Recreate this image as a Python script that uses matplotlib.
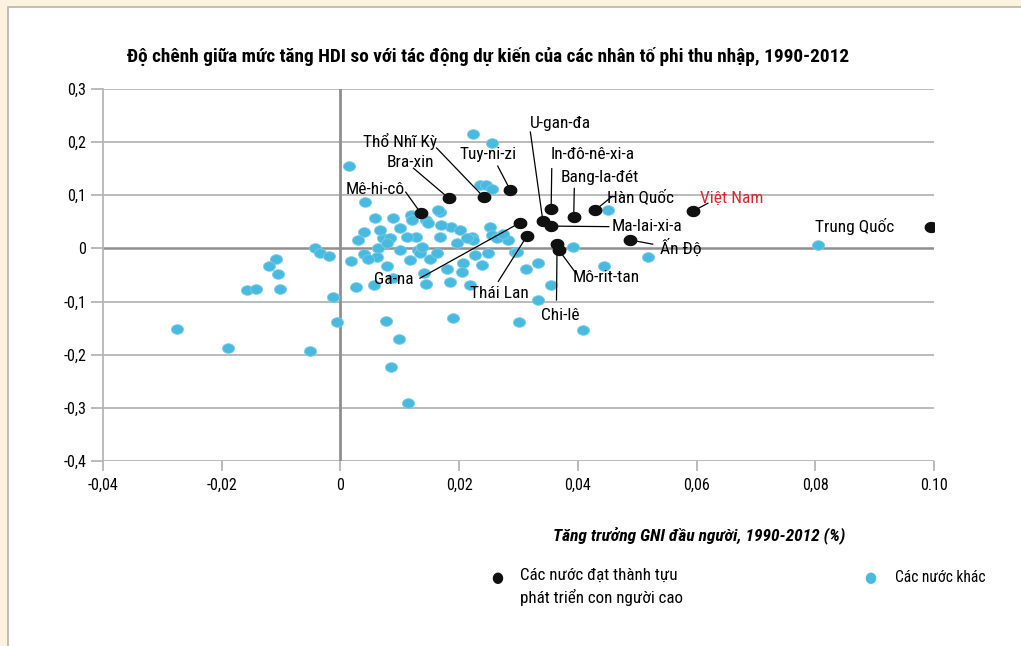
import matplotlib
matplotlib.use('Agg')
import matplotlib.pyplot as plt
import numpy as np
from matplotlib import font_manager
from matplotlib.path import Path
from matplotlib.patches import Rectangle

# data (x: GNI growth, y: HDI gap)
blue_x = [-0.0276, -0.0189, -0.0052, -0.0005, -0.0013, -0.0158, -0.0142, -0.0102, -0.0109, -0.0120,
          -0.0106, -0.0043, -0.0035, -0.0020, 0.0017, 0.0039, 0.0026, 0.0057, 0.0078, 0.0077,
          0.0098, 0.0085, 0.0113, 0.0040, 0.0072, 0.0030, 0.0064, 0.0015, 0.0041, 0.0058,
          0.0190, 0.0300, 0.0409, 0.0333, 0.0355, 0.0145, 0.0184, 0.0218, 0.0312, 0.0333,
          0.0294, 0.0392, 0.0444, 0.0518, 0.0117, 0.0151, 0.0179, 0.0207, 0.0238, 0.0227,
          0.0249, 0.0100, 0.0131, 0.0162, 0.0187, 0.0221, 0.0252, 0.0145, 0.0170, 0.0224,
          0.0255, 0.0235, 0.0246, 0.0168, 0.0119, 0.0089, 0.0120, 0.0148, 0.0067, 0.0201,
          0.0083, 0.0128, 0.0168, 0.0196, 0.0224, 0.0255, 0.0283, 0.0297, 0.0061, 0.0100,
          0.0134, 0.0140, 0.0451, 0.0805, 0.0255, 0.0165, 0.0078, 0.0112, 0.0137, 0.0213,
          0.0263, 0.0274, 0.0046, 0.0088, 0.0205]
blue_y = [-0.152, -0.188, -0.193, -0.139, -0.091, -0.078, -0.076, -0.077, -0.019, -0.033,
          -0.049, 0.000, -0.008, -0.014, -0.023, -0.011, -0.073, -0.068, -0.034, -0.136,
          -0.171, -0.223, -0.290, 0.031, 0.019, 0.016, 0.000, 0.156, 0.088, 0.057,
          -0.130, -0.138, -0.154, -0.097, -0.068, -0.066, -0.063, -0.069, -0.038, -0.028,
          -0.007, 0.002, -0.033, -0.016, -0.022, -0.019, -0.039, -0.028, -0.031, -0.012,
          -0.009, 0.038, -0.003, -0.009, 0.041, 0.022, 0.041, 0.053, 0.044, 0.215,
          0.198, 0.119, 0.119, 0.069, 0.063, 0.057, 0.053, 0.047, 0.035, 0.035,
          0.019, 0.022, 0.022, 0.010, 0.016, 0.025, 0.016, -0.006, -0.016, -0.003,
          -0.009, -0.047, 0.072, 0.006, 0.111, 0.072, 0.010, 0.022, 0.003, 0.019,
          0.019, 0.028, -0.020, -0.055, -0.045]

names = ['Mê-hi-cô', 'Bra-xin', 'Thổ Nhĩ Kỳ', 'Tuy-ni-zi', 'U-gan-đa', 'Ma-lai-xi-a',
         'In-đô-nê-xi-a', 'Bang-la-đét', 'Hàn Quốc', 'Ga-na', 'Thái Lan', 'Chi-lê',
         'Mô-rit-tan', 'Ấn Độ', 'Việt Nam', 'Trung Quốc']
black_x = [0.0135, 0.0183, 0.0242, 0.0286, 0.0341, 0.0355, 0.0355, 0.0393, 0.0429, 0.0302,
           0.0314, 0.0365, 0.0368, 0.0488, 0.0594, 0.0995]
black_y = [0.067, 0.094, 0.096, 0.110, 0.052, 0.042, 0.074, 0.059, 0.072, 0.048,
           0.023, 0.008, -0.003, 0.016, 0.070, 0.040]
# label text position and where the leader line starts (None = no leader)
label_xy = [(0.0058, 0.110), (0.0117, 0.162), (0.0100, 0.202), (0.0249, 0.176), (0.0371, 0.236),
            (0.0457, 0.042), (0.0425, 0.176), (0.0437, 0.134), (0.0506, 0.097), (0.0090, -0.058),
            (0.0268, -0.084), (0.0370, -0.127), (0.0447, -0.054), (0.0538, 0.001), (0.0660, 0.095),
            (0.0867, 0.042)]
line_start = [(0.0110, 0.106), (0.0123, 0.151), (0.0162, 0.189), (0.0265, 0.155), (0.0320, 0.219),
              (0.0452, 0.041), (0.0356, 0.150), (0.0394, 0.113), (0.0458, 0.098), (0.0134, -0.056),
              (0.0266, -0.062), (0.0364, -0.097), (0.0397, -0.047), (0.0526, 0.008), (0.0619, 0.085),
              None]
ha_list = ['center'] * 16
ha_list[5] = 'left'
ha_list[13] = 'left'

xticks = [-0.04, -0.02, 0, 0.02, 0.04, 0.06, 0.08, 0.10]
xticklabels = ['-0,04', '-0,02', '0', '0,02', '0,04', '0,06', '0,08', '0.10']
yticks = [0.3, 0.2, 0.1, 0, -0.1, -0.2, -0.3, -0.4]
yticklabels = ['0,3', '0,2', '0,1', '0', '-0,1', '-0,2', '-0,3', '-0,4']

installed = {f.name for f in font_manager.fontManager.ttflist}
fam = 'DejaVu Sans'
for cand in ['Liberation Sans Narrow', 'Roboto Condensed', 'Open Sans Condensed', 'Noto Sans Condensed']:
    if cand in installed:
        fam = cand
        break
plt.rcParams['font.family'] = [fam, 'DejaVu Sans']
plt.rcParams['font.stretch'] = 'condensed'

t = np.linspace(0, 2 * np.pi, 40)
ellipse = Path(np.column_stack([1.25 * np.cos(t), np.sin(t)]), closed=True)

fig = plt.figure(figsize=(10.21, 6.46), dpi=100)
fig.patch.set_facecolor('#fdf2e0')
panel = Rectangle((8 / 1021, -0.01), 1.0, 1 - 7 / 646 + 0.01, transform=fig.transFigure,
                  facecolor='white', edgecolor='#b8b2aa', linewidth=1.2, zorder=-5)
fig.patches.append(panel)

ax = fig.add_axes([103 / 1021, 1 - 461 / 646, 831 / 1021, 372 / 646])
ax.set_facecolor('none')
ax.set_zorder(2)
ax.set_xlim(-0.04, 0.10)
ax.set_ylim(-0.4, 0.3)

gray = '#b5b5b5'
for yv in yticks:
    ax.axhline(yv, color='#8f8f8f' if yv == 0 else gray, lw=1.8 if yv == 0 else 1.3, zorder=1)
ax.axvline(0, color='#8f8f8f', lw=2.0, zorder=1)
for s in ['top', 'right', 'bottom']:
    ax.spines[s].set_visible(False)
ax.spines['left'].set_color(gray)
ax.spines['left'].set_linewidth(1.3)
ax.set_xticks(xticks)
ax.set_xticklabels(xticklabels, fontsize=11.5)
ax.set_yticks(yticks)
ax.set_yticklabels(yticklabels, fontsize=11.5)
ax.tick_params(axis='x', length=7, width=1.3, color=gray, pad=5)
ax.tick_params(axis='y', length=9, width=1.3, color=gray, pad=3)

ax.scatter(blue_x, blue_y, marker=ellipse, s=75, color='#48b9df', edgecolors='#7ccbe6',
           linewidths=0.6, zorder=3)
ax.scatter(black_x, black_y, marker=ellipse, s=80, color='#101010', zorder=4)

for i, name in enumerate(names):
    lx, ly = label_xy[i]
    ax.text(lx, ly, name, fontsize=12.5, ha=ha_list[i], va='center',
            color='#d7262e' if name == 'Việt Nam' else 'black', zorder=5)
    if line_start[i] is not None:
        sx, sy = line_start[i]
        ax.plot([sx, black_x[i]], [sy, black_y[i]], color='black', lw=0.9, zorder=3.5)

title = fig.text(488 / 1021, 1 - 57 / 646,
                 'Độ chênh giữa mức tăng HDI so với tác động dự kiến của các nhân tố phi thu nhập, 1990-2012',
                 ha='center', va='center', fontsize=14, fontweight='bold')
xlab = fig.text(699 / 1021, 1 - 535 / 646, 'Tăng trưởng GNI đầu người, 1990-2012 (%)',
                ha='center', va='center', fontsize=12.5, fontweight='bold', style='italic')

# legend drawn by hand to match the two-column layout
fig.text(497 / 1021, 1 - 578 / 646, '●', ha='center', va='center', fontsize=11, color='#101010',
         family='DejaVu Sans')
leg1 = fig.text(520 / 1021, 1 - 568 / 646, 'Các nước đạt thành tựu\nphát triển con người cao',
                ha='left', va='top', fontsize=12, linespacing=1.45)
fig.text(870 / 1021, 1 - 578 / 646, '●', ha='center', va='center', fontsize=11, color='#48b9df',
         family='DejaVu Sans')
leg2 = fig.text(895 / 1021, 1 - 578 / 646, 'Các nước khác', ha='left', va='center', fontsize=12)

# shrink texts to the widths they take in the reference
renderer = fig.canvas.get_renderer()


def fit(txt, width_px):
    w = txt.get_window_extent(renderer).width
    txt.set_fontsize(txt.get_fontsize() * width_px / w)


fit(title, 723)
fit(xlab, 292)
fit(leg1, 163)
fit(leg2, 90)

fig.savefig('out.png', dpi=100, facecolor=fig.get_facecolor())
